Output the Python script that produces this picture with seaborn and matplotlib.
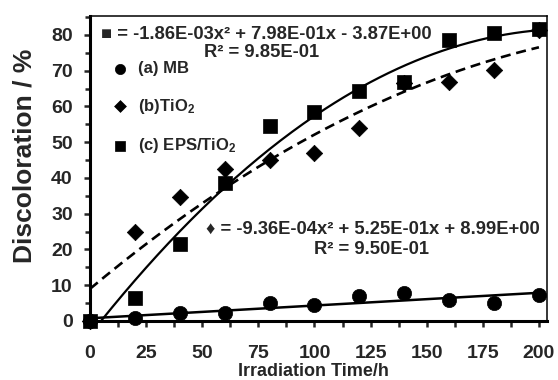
import numpy as np
import pandas as pd
import matplotlib
matplotlib.use("Agg")
import matplotlib.pyplot as plt
import seaborn as sns
from matplotlib.ticker import MultipleLocator

# ---- data ----
time_h = [0, 20, 40, 60, 80, 100, 120, 140, 160, 180, 200]
mb = [0, 0.75, 2.1, 2.1, 5.1, 4.5, 7.0, 7.7, 5.9, 5.1, 7.3]
tio2 = [0, 24.8, 34.6, 42.4, 45.0, 46.9, 53.9, 66.5, 66.9, 70.2, 81.4]
eps_tio2 = [0, 6.3, 21.5, 38.7, 54.5, 58.5, 64.4, 66.9, 78.6, 80.5, 81.7]

# trend-line coefficients shown in the chart (highest power first)
eps_coef = [-1.86e-03, 7.98e-01, -3.87e+00]
tio2_coef = [-9.36e-04, 5.25e-01, 8.99e+00]

eq_eps = ["\u25a0 = -1.86E-03x\u00b2 + 7.98E-01x - 3.87E+00", "R\u00b2 = 9.85E-01"]
eq_tio2 = ["\u2666 = -9.36E-04x\u00b2 + 5.25E-01x + 8.99E+00", "R\u00b2 = 9.50E-01"]
labels = ["(a) MB", "(b)TiO$_2$", "(c) EPS/TiO$_2$"]
x_ticks = [0, 25, 50, 75, 100, 125, 150, 175, 200]
y_ticks = [0, 10, 20, 30, 40, 50, 60, 70, 80]

sns.set_style("white")
plt.rcParams["font.family"] = ["Liberation Sans", "DejaVu Sans"]
plt.rcParams["font.weight"] = "bold"
plt.rcParams["mathtext.fontset"] = "custom"
plt.rcParams["mathtext.rm"] = "Liberation Sans:bold"
plt.rcParams["mathtext.it"] = "Liberation Sans:bold"
plt.rcParams["mathtext.bf"] = "Liberation Sans:bold"

fig = plt.figure(figsize=(5.58, 3.80), dpi=100)
ax = fig.add_axes([0.1613, 0.1553, 0.9803 - 0.1613, 0.9579 - 0.1553])

df = pd.DataFrame({"t": time_h, "mb": mb, "tio2": tio2, "eps": eps_tio2})

# fit curves
xs = np.linspace(0, 200, 201)
mb_coef = np.polyfit(time_h, mb, 1)
curves = pd.DataFrame({
    "x": xs,
    "mb": np.polyval(mb_coef, xs),
    "tio2": np.polyval(tio2_coef, xs),
    "eps": np.polyval(eps_coef, xs),
})
sns.lineplot(data=curves, x="x", y="mb", ax=ax, color="black", lw=1.8, legend=False)
sns.lineplot(data=curves, x="x", y="eps", ax=ax, color="black", lw=1.6, legend=False)
sns.lineplot(data=curves, x="x", y="tio2", ax=ax, color="black", lw=1.9, legend=False)
ax.lines[-1].set_dashes([3.8, 2.2])

common = dict(ax=ax, color="black", edgecolor="black", linewidth=0.5, clip_on=False, zorder=5)
sns.scatterplot(data=df, x="t", y="mb", marker="o", s=105, label=labels[0], **common)
sns.scatterplot(data=df, x="t", y="tio2", marker="D", s=70, label=labels[1], **common)
sns.scatterplot(data=df, x="t", y="eps", marker="s", s=100, label=labels[2], **common)

ax.set_xlim(0, 203.6)
ax.set_ylim(0, 85.3)
ax.set_xticks(x_ticks)
ax.set_yticks(y_ticks)
ax.xaxis.set_minor_locator(MultipleLocator(12.5))
ax.yaxis.set_minor_locator(MultipleLocator(5))
ax.tick_params(axis="y", which="major", direction="out", length=4.5, width=1.8,
               labelsize=14, pad=8, left=True)
ax.tick_params(axis="y", which="minor", direction="out", length=3.5, width=1.8, left=True)
ax.tick_params(axis="x", which="both", direction="out", length=4, width=1.8,
               labelsize=14, pad=13, bottom=True)
for lbl in ax.get_xticklabels() + ax.get_yticklabels():
    lbl.set_fontweight("bold")

for side in ["left", "bottom"]:
    ax.spines[side].set_linewidth(2.2)
for side in ["top", "right"]:
    ax.spines[side].set_linewidth(1.1)
for s in ax.spines.values():
    s.set_color("black")

ax.set_xlabel("Irradiation Time/h", fontsize=13, fontweight="bold")
ax.xaxis.set_label_coords(0.49, -0.137)
ax.set_ylabel("Discoloration / %", fontsize=19, fontweight="bold")
ax.yaxis.set_label_coords(-0.118, 0.54)

leg = ax.legend(loc="upper left", bbox_to_anchor=(0.0, 0.895), frameon=False,
                fontsize=12, labelspacing=1.22, handletextpad=0.1,
                markerscale=0.72, borderaxespad=0.4)
for t in leg.get_texts():
    t.set_fontweight("bold")

txt = dict(transform=ax.transAxes, ha="center", va="center", fontsize=13.2, fontweight="bold")
ax.text(0.385, 0.938, eq_eps[0], **txt)
ax.text(0.376, 0.879, eq_eps[1], **txt)
ax.text(0.619, 0.302, eq_tio2[0], **txt)
ax.text(0.617, 0.236, eq_tio2[1], **txt)

fig.savefig("out.png", dpi=100)
